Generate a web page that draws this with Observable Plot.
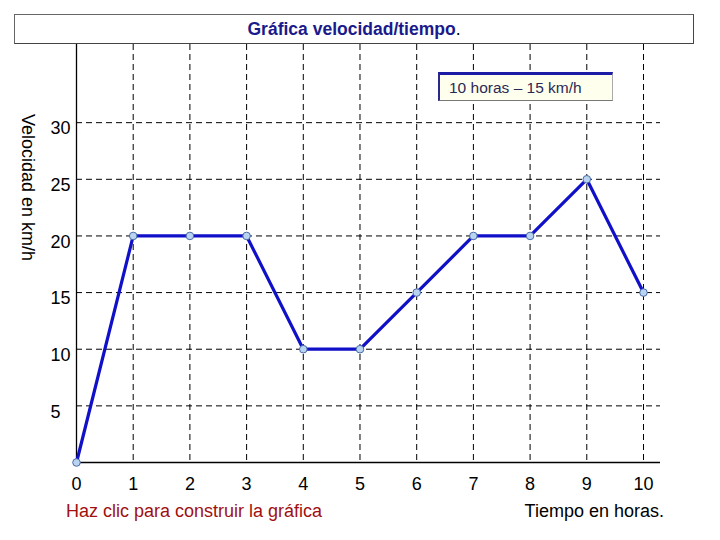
<!DOCTYPE html>
<html>
<head>
<meta charset="utf-8">
<script src="https://cdn.jsdelivr.net/npm/d3@7"></script>
<script src="https://cdn.jsdelivr.net/npm/@observablehq/plot@0.6"></script>
<style>
  body { margin: 0; background: #fff; font-family: "Liberation Sans", Arial, sans-serif; }
  #wrap { position: relative; width: 720px; height: 540px; overflow: hidden; }
  #chart { position: absolute; left: 0; top: 0; }
  .title { position: absolute; left: 14px; top: 14px; width: 678px; height: 28px; border: 1px solid #666; border-right-color:#444; border-bottom-color:#444;
    text-align: center; line-height: 29px; font-size: 17.5px; font-weight: bold; color: #1a1a8c; background: #fff; }
  .title span { color: #000; font-weight: normal; }
  .legend { position: absolute; left: 438px; top: 72px; height: 25px; background: #ffffee; border-top: 3px solid #1c1ca6; border-left: 2px double #2a2a8c; border-bottom: 1px solid #777; border-right: 1px solid #aaa;
    font-size: 15.5px; color: #2a2a55; line-height: 26px; padding-left: 9px; box-sizing: content-box; width: 163px; white-space: nowrap; }
  .ylab { position: absolute; left: 17px; top: 114px; writing-mode: vertical-rl; font-size: 18px; color: #000; white-space: nowrap; }
  .note { position: absolute; left: 66px; top: 501px; font-size: 18px; color: #a01010; }
  .xlab { position: absolute; right: 56px; top: 501px; font-size: 18px; color: #000; }
</style>
</head>
<body>
<div id="wrap">
  <div id="chart"></div>
  <div class="title">Gráfica velocidad/tiempo<span>.</span></div>
  <div class="legend">10 horas – 15 km/h</div>
  <div class="ylab" id="ylab">Velocidad en km/h</div>
  <div class="note">Haz clic para construir la gráfica</div>
  <div class="xlab">Tiempo en horas.</div>
</div>
<script>
const hours = [0, 1, 2, 3, 4, 5, 6, 7, 8, 9, 10];
const speeds = [0, 20, 20, 20, 10, 10, 15, 20, 20, 25, 15];
const xTicks = [0, 1, 2, 3, 4, 5, 6, 7, 8, 9, 10];
const yTicks = [5, 10, 15, 20, 25, 30];

const data = hours.map((h, i) => ({ h, v: speeds[i] }));
const font = "Liberation Sans, Arial, sans-serif";

const chart = Plot.plot({
  width: 720,
  height: 540,
  marginLeft: 76,
  marginRight: 60,
  marginTop: 44,
  marginBottom: 78,
  x: { domain: [0, 10.3], axis: null },
  y: { domain: [0, 36.9], axis: null },
  style: { fontFamily: font, background: "transparent" },
  marks: [
    Plot.ruleY(yTicks, { stroke: "#000", strokeDasharray: "6,4", strokeWidth: 1 }),
    Plot.ruleX(xTicks.filter(d => d > 0), { stroke: "#000", strokeDasharray: "6,4", strokeWidth: 1 }),
    Plot.ruleX([0], { stroke: "#000", strokeWidth: 1.3 }),
    Plot.ruleY([0], { stroke: "#000", strokeWidth: 1.3 }),
    Plot.text(xTicks, { x: d => d, frameAnchor: "bottom", dy: 27, text: d => String(d), fontSize: 18, fill: "#000" }),
    Plot.text(yTicks, { y: d => d, frameAnchor: "left", dx: -26, dy: 6, textAnchor: "start", text: d => String(d), fontSize: 18, fill: "#000" }),
    Plot.line(data, { x: "h", y: "v", stroke: "#1010c8", strokeWidth: 3.2 }),
    Plot.dot(data, { x: "h", y: "v", r: 3.8, fill: "#b8d4f0", stroke: "#4a6aa8", strokeWidth: 1 })
  ]
});
document.getElementById("chart").appendChild(chart);
</script>
</body>
</html>
